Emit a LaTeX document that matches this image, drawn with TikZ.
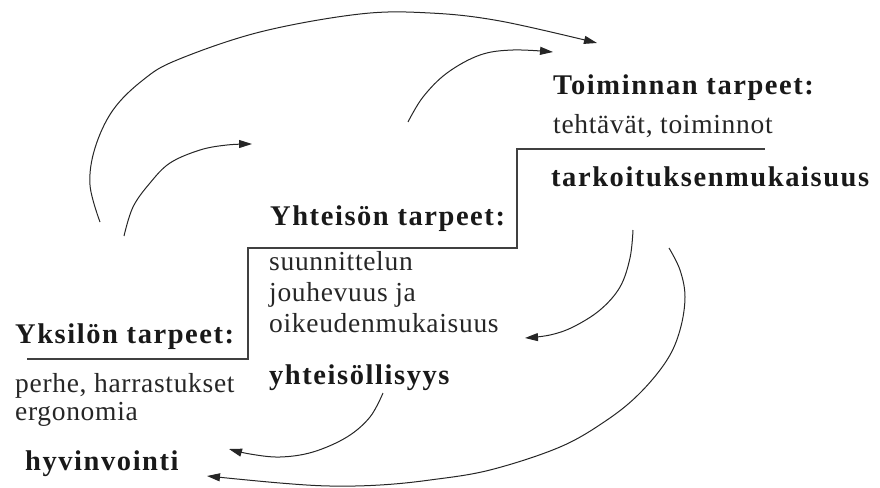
\documentclass[tikz,border=0pt]{standalone}
\usepackage{fontspec}
\setmainfont{Liberation Serif}[LetterSpace=2.5]
\newfontfamily\headfont{Liberation Serif}[LetterSpace=5.5]
\usetikzlibrary{arrows.meta}
\begin{document}
\begin{tikzpicture}[x=1pt,y=-1pt,
  head/.style={anchor=base west, inner sep=0pt, text=black!90, font=\fontsize{28.5}{30}\headfont\bfseries},
  body/.style={anchor=base west, inner sep=0pt, text=black!85, font=\fontsize{27.5}{30}\selectfont},
  stair/.style={draw=black!75, line width=1.3pt},
  arr/.style={draw=black!85, line width=1pt, -{Triangle[length=13pt,width=8pt]}}]
\useasboundingbox (0,0) rectangle (880,487);
% texts
\node[head] (toim) at (553,94) {Toiminnan tarpeet:};
\node[body] (teht) at (553,133) {tehtävät, toiminnot};
\node[head] (tark) at (551,186) {tarkoituksenmukaisuus};
\node[head] (yhtt) at (270,225) {Yhteisön tarpeet:};
\node[body] (s1) at (269,270) {suunnittelun};
\node[body] (s2) at (269,301) {jouhevuus ja};
\node[body] (s3) at (269,332) {oikeudenmukaisuus};
\node[head] (yhts) at (269,384) {yhteisöllisyys};
\node[head] (yksi) at (15,343) {Yksilön tarpeet:};
\node[body] (perh) at (15,392) {perhe, harrastukset};
\node[body] (ergo) at (15,420) {ergonomia};
\node[head] (hyvi) at (25,470) {hyvinvointi};
% staircase
\draw[stair] (27,359) -- (248,359) -- (248,248) -- (517,248) -- (517,149) -- (765,149);
% arrow ends
\coordinate (o1) at (100,222); \coordinate (o2) at (597,43);
\coordinate (i1) at (124,236); \coordinate (i2) at (252,144);
\coordinate (t1) at (408,122); \coordinate (t2) at (553,52);
\coordinate (a1) at (633,230); \coordinate (a2) at (525,338);
\coordinate (b1) at (669,248); \coordinate (b2) at (207,476);
\coordinate (c1) at (383,393); \coordinate (c2) at (229,449);
% arrows
\draw[arr] plot[smooth,tension=0.6] coordinates {(o1) (90,185) (95,148) (113,110) (143,80) (177,60) (260,32) (360,14) (430,13) (500,21) (o2)};
\draw[arr] plot[smooth,tension=0.6] coordinates {(i1) (133,207) (150,183) (170,163) (200,150) (227,145) (i2)};
\draw[arr] plot[smooth,tension=0.6] coordinates {(t1) (423,97) (447,73) (480,55) (513,50) (t2)};
\draw[arr] plot[smooth,tension=0.6] coordinates {(a1) (630,258) (620,287) (600,310) (573,327) (550,335) (a2)};
\draw[arr] plot[smooth,tension=0.6] coordinates {(b1) (680,270) (685,297) (680,330) (667,360) (640,393) (607,420) (560,447) (490,470) (430,480) (380,485) (330,486) (280,483) (b2)};
\draw[arr] plot[smooth,tension=0.6] coordinates {(c1) (370,417) (347,437) (313,452) (280,457) (250,454) (c2)};
\end{tikzpicture}
\end{document}
